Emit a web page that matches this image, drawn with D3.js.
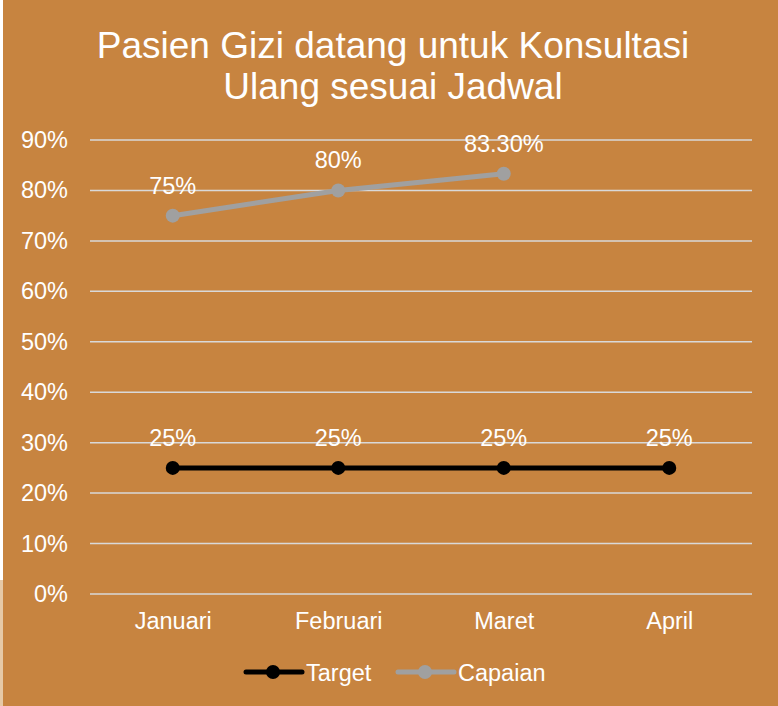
<!DOCTYPE html>
<html>
<head>
<meta charset="utf-8">
<script src="https://cdn.jsdelivr.net/npm/d3@7"></script>
<style>
  html, body { margin: 0; padding: 0; background: #C78440; }
  svg { display: block; font-family: "Liberation Sans", Arial, sans-serif; }
</style>
</head>
<body>
<svg id="chart" width="778" height="706"></svg>
<script>
// ── Data ──────────────────────────────────────────────────────────────────────
const categories = ['Januari', 'Februari', 'Maret', 'April'];
const target     = [0.25, 0.25, 0.25, 0.25];
const capaian    = [0.75, 0.80, 0.833];
const targetLbl  = ['25%', '25%', '25%', '25%'];
const capaianLbl = ['75%', '80%', '83.30%'];
const yTicks     = [0, 0.1, 0.2, 0.3, 0.4, 0.5, 0.6, 0.7, 0.8, 0.9];

const W = 778, H = 706;
const bg = '#C78440';
const m  = { left: 90, right: 26, top: 140, bottom: 112 };
const FONT = '"Liberation Sans", Arial, sans-serif';
const FS = '23.5px';

const svg = d3.select('#chart');
svg.append('rect').attr('width', W).attr('height', H).attr('fill', bg);
// thin strip on left edge
svg.append('rect').attr('x', 0).attr('y', 0).attr('width', 3).attr('height', H).attr('fill', '#fff');
svg.append('rect').attr('x', 0).attr('y', 580).attr('width', 3).attr('height', H - 580).attr('fill', '#E6C9A6');

// ── Title ─────────────────────────────────────────────────────────────────────
const title = svg.append('text').attr('text-anchor', 'middle').attr('fill', '#fff')
  .style('font-size', '37px');
title.append('tspan').attr('x', 393).attr('y', 58).text('Pasien Gizi datang untuk Konsultasi');
title.append('tspan').attr('x', 393).attr('y', 99).text('Ulang sesuai Jadwal');

// ── Scales ────────────────────────────────────────────────────────────────────
const x = d3.scalePoint().domain(categories).range([m.left, W - m.right]).padding(0.5);
const y = d3.scaleLinear().domain([0, 0.9]).range([H - m.bottom, m.top]);

// gridlines
svg.append('g').selectAll('line').data(yTicks).join('line')
  .attr('x1', m.left).attr('x2', W - m.right)
  .attr('y1', d => y(d)).attr('y2', d => y(d))
  .attr('stroke', '#D9D9D9').attr('stroke-width', 1.5);

// y axis labels
const yAxis = svg.append('g')
  .attr('transform', `translate(${m.left - 22},0)`)
  .call(d3.axisLeft(y).tickValues(yTicks).tickFormat(d3.format('.0%')).tickSize(0).tickPadding(0));
yAxis.select('.domain').remove();
yAxis.selectAll('text').attr('fill', '#fff').style('font-size', FS).style('font-family', FONT);

// x axis labels
const xAxis = svg.append('g')
  .attr('transform', `translate(0,${y(0) + 18})`)
  .call(d3.axisBottom(x).tickSize(0).tickPadding(0));
xAxis.select('.domain').remove();
xAxis.selectAll('text').attr('fill', '#fff').style('font-size', FS).style('font-family', FONT);

// ── Series ────────────────────────────────────────────────────────────────────
const series = [
  { name: 'Target',  values: target,  labels: targetLbl,  color: '#000000' },
  { name: 'Capaian', values: capaian, labels: capaianLbl, color: '#A0A0A0' }
];

const line = d3.line().x((d, i) => x(categories[i])).y(d => y(d));

series.forEach(s => {
  const g = svg.append('g');
  g.append('path').datum(s.values).attr('d', line)
    .attr('fill', 'none').attr('stroke', s.color).attr('stroke-width', 5)
    .attr('stroke-linejoin', 'round');
  g.selectAll('circle').data(s.values).join('circle')
    .attr('cx', (d, i) => x(categories[i])).attr('cy', d => y(d))
    .attr('r', 7).attr('fill', s.color);
  g.selectAll('text').data(s.values).join('text')
    .attr('x', (d, i) => x(categories[i])).attr('y', d => y(d) - 22)
    .attr('text-anchor', 'middle').attr('fill', '#fff').style('font-size', FS)
    .text((d, i) => s.labels[i]);
});

// ── Legend ────────────────────────────────────────────────────────────────────
const legendX = [246, 398];
const legend = svg.append('g').selectAll('g').data(series).join('g')
  .attr('transform', (d, i) => `translate(${legendX[i]},672)`);
legend.append('line').attr('x1', 0).attr('x2', 56)
  .attr('stroke', d => d.color).attr('stroke-width', 5).attr('stroke-linecap', 'round');
legend.append('circle').attr('cx', 27).attr('r', 7).attr('fill', d => d.color);
legend.append('text').attr('x', 60).attr('y', 8.5).attr('fill', '#fff')
  .style('font-size', FS).text(d => d.name);
</script>
</body>
</html>
